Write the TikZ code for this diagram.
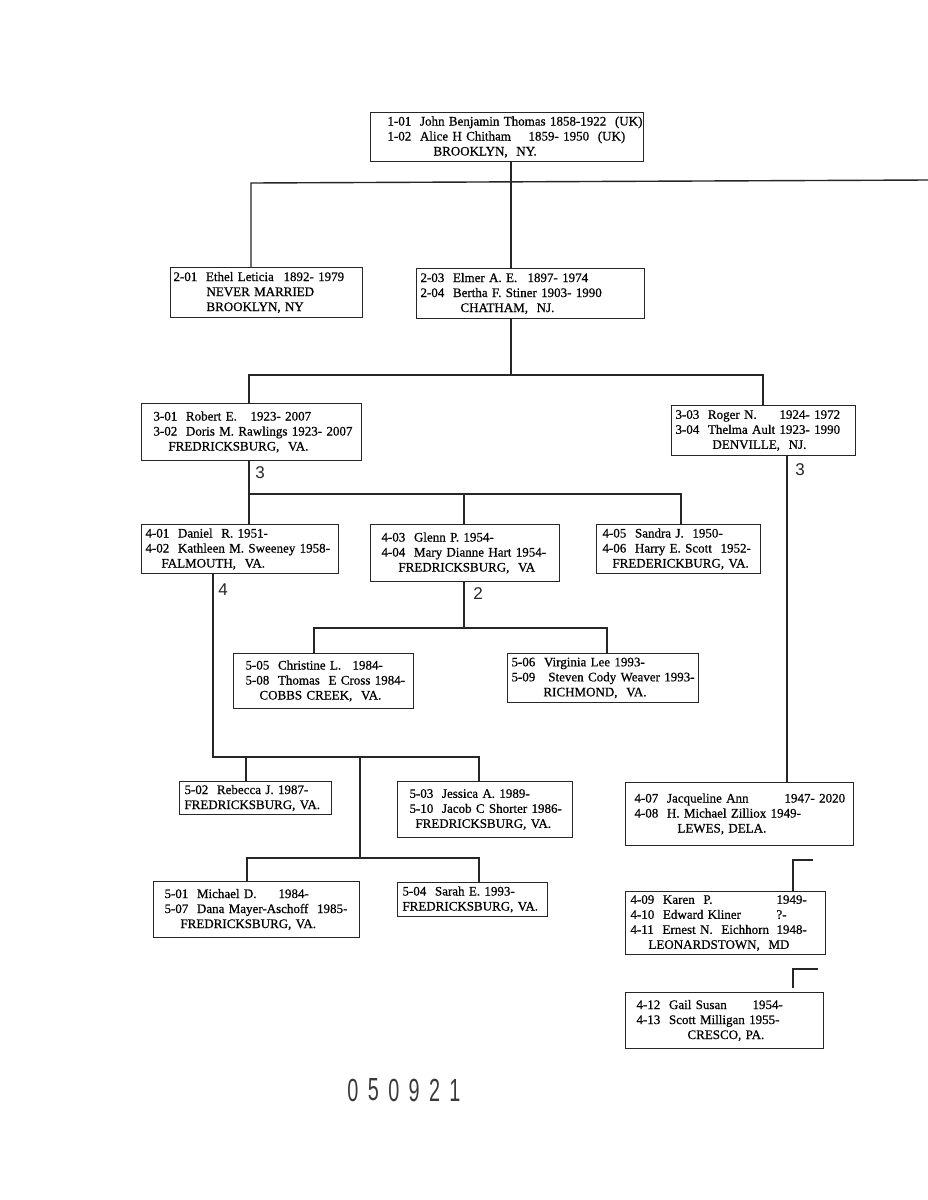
\documentclass[tikz,border=0pt]{standalone}
\usepackage{fontspec}
\usepackage{xcolor}
\usepackage{tikz}
\setmainfont{Liberation Serif}
\newfontfamily\famserif{Liberation Serif}[FakeBold=0.6]
\newfontfamily\handfont{Liberation Sans}
\newfontfamily\stampfont{Liberation Sans}
\definecolor{ink}{HTML}{262626}
\definecolor{stampink}{HTML}{3a3a3a}
\newcommand\famfont{\famserif\fontsize{13}{15}\selectfont}
\def\ind#1{\hspace*{#1pt}}
\def\col#1#2{\makebox[#1pt][l]{#2}}
\def\fam#1#2#3#4#5{\node[person,text width=#3pt,minimum height=#4pt] (#1) at (#2) {#5}}
\tikzstyle{person}=[draw=ink,line width=1pt,anchor=north west,align=left,inner xsep=0pt,inner ysep=2pt,font=\famfont]
\tikzstyle{link}=[draw=ink,line width=1.4pt]
\tikzstyle{tally}=[font=\handfont\fontsize{17}{17}\selectfont,text=ink,inner sep=0pt]
\tikzstyle{stamp}=[font=\stampfont\fontsize{32}{32}\selectfont,text=stampink,xscale=0.62,inner sep=0pt]

\begin{document}
\begin{tikzpicture}[x=1pt,y=-1pt]
    \useasboundingbox[fill=white] (0,0) rectangle (928,1200);
    % generation 1 and 2
    \fam{thomas}{370,112}{273}{49}{\ind{17}1-01\ \ John Benjamin Thomas 1858-1922\ \ (UK)\\
      \ind{17}\col{141}{1-02\ \ Alice H Chitham}1859- 1950\ \ (UK)\\ \ind{63}BROOKLYN,\ \ NY.};
    \fam{ethel}{170,267}{192}{50}{\ind{3}\col{110}{2-01\ \ Ethel Leticia}1892- 1979\\
      \ind{36}NEVER MARRIED\\ \ind{36}BROOKLYN, NY};
    \fam{elmer}{416,268}{228}{50}{\ind{4}\col{107}{2-03\ \ Elmer A. E.}1897- 1974\\
      \ind{4}2-04\ \ Bertha F. Stiner 1903- 1990\\ \ind{44}CHATHAM,\ \ NJ.};
    % generation 3
    \fam{robert}{141,403}{220}{57}{\ind{12}\col{97}{3-01\ \ Robert E.}1923- 2007\\
      \ind{12}3-02\ \ Doris M. Rawlings 1923- 2007\\ \ind{27}FREDRICKSBURG,\ \ VA.};
    \fam{roger}{671,405}{184}{50}{\ind{4}\col{104}{3-03\ \ Roger N.}1924- 1972\\
      \ind{4}3-04\ \ Thelma Ault 1923- 1990\\ \ind{41}DENVILLE,\ \ NJ.};
    % generation 4
    \fam{daniel}{141,524}{197}{49}{\ind{4}4-01\ \ Daniel\ \ R. 1951-\\
      \ind{4}4-02\ \ Kathleen M. Sweeney 1958-\\ \ind{20}FALMOUTH,\ \ VA.};
    \fam{glenn}{370,524}{189}{57}{\ind{11}4-03\ \ Glenn P. 1954-\\
      \ind{11}4-04\ \ Mary Dianne Hart 1954-\\ \ind{28}FREDRICKSBURG,\ \ VA};
    \fam{sandra}{596,524}{164}{49}{\ind{6}4-05\ \ Sandra J.\ \ 1950-\\
      \ind{6}4-06\ \ Harry E. Scott\ \ 1952-\\ \ind{16}FREDERICKBURG, VA.};
    \fam{jacq}{625,782}{228}{63}{\ind{9}\col{150}{4-07\ \ Jacqueline Ann}1947- 2020\\
      \ind{9}4-08\ \ H. Michael Zilliox 1949-\\ \ind{52}LEWES, DELA.};
    \fam{karen}{625,891}{200}{63}{\ind{5}\col{146}{4-09\ \ Karen\ \ P.}1949-\\
      \ind{5}\col{146}{4-10\ \ Edward Kliner}?-\\ \ind{5}\col{146}{4-11\ \ Ernest N.\ \ Eichhorn}1948-\\
      \ind{23}LEONARDSTOWN,\ \ MD};
    \fam{gail}{625,992}{198}{56}{\ind{11}\col{116}{4-12\ \ Gail Susan}1954-\\
      \ind{11}4-13\ \ Scott Milligan 1955-\\ \ind{62}CRESCO, PA.};
    % generation 5
    \fam{christine}{233,653}{180}{55}{\ind{12}\col{107}{5-05\ \ Christine L.}1984-\\
      \ind{12}5-08\ \ Thomas\ \ E Cross 1984-\\ \ind{26}COBBS CREEK,\ \ VA.};
    \fam{virginia}{507,653}{191}{49}{\ind{4}5-06\ \ Virginia Lee 1993-\\
      \ind{4}5-09\ \ \ Steven Cody Weaver 1993-\\ \ind{36}RICHMOND,\ \ VA.};
    \fam{rebecca}{179,781}{152}{33}{\ind{5}5-02\ \ Rebecca J. 1987-\\ \ind{5}FREDRICKSBURG, VA.};
    \fam{jessica}{397,781}{175}{56}{\ind{12}5-03\ \ Jessica A. 1989-\\
      \ind{12}5-10\ \ Jacob C Shorter 1986-\\ \ind{18}FREDRICKSBURG, VA.};
    \fam{michael}{153,881}{206}{56}{\ind{11}\col{114}{5-01\ \ Michael D.}1984-\\
      \ind{11}5-07\ \ Dana Mayer-Aschoff\ \ 1985-\\ \ind{27}FREDRICKSBURG, VA.};
    \fam{sarah}{397,882}{150}{34}{\ind{5}5-04\ \ Sarah E. 1993-\\ \ind{5}FREDRICKSBURG, VA.};
    % junctions
    \coordinate (g1l) at (251,183); \coordinate (g1m) at (511,182); \coordinate (g1r) at (928,180);
    \coordinate (g2l) at (249,375); \coordinate (g2m) at (511,375); \coordinate (g2r) at (763,375);
    \coordinate (g3l) at (249,494); \coordinate (g3m) at (464,494); \coordinate (g3r) at (681,494);
    \coordinate (g4l) at (314,628); \coordinate (g4m) at (464,628); \coordinate (g4r) at (607,628);
    \coordinate (g5l) at (213,757); \coordinate (g5a) at (246,757); \coordinate (g5m) at (360,757); \coordinate (g5r) at (479,757);
    \coordinate (g6l) at (247,858); \coordinate (g6m) at (360,858); \coordinate (g6r) at (479,858);
    \coordinate (g7) at (787,455);
    \coordinate (kb) at (793,860); \coordinate (ke) at (813,860);
    \coordinate (gb) at (793,969); \coordinate (ge) at (818,969);
    % connectors
    \draw[link] (thomas.south -| g1m) -- (elmer.north -| g1m);
    \draw[link] (ethel.north -| g1l) -- (g1l) -- (g1r);
    \draw[link] (elmer.south -| g2m) -- (g2m);
    \draw[link] (robert.north -| g2l) |- (g2r) -- (roger.north -| g2r);
    \draw[link] (robert.south -| g3l) -- (daniel.north -| g3l);
    \draw[link] (g3l) -- (g3r) -- (sandra.north -| g3r);
    \draw[link] (g3m) -- (glenn.north -| g3m);
    \draw[link] (glenn.south -| g4m) -- (g4m);
    \draw[link] (christine.north -| g4l) |- (g4r) -- (virginia.north -| g4r);
    \draw[link] (daniel.south -| g5l) |- (g5r) -- (jessica.north -| g5r);
    \draw[link] (g5a) -- (rebecca.north -| g5a);
    \draw[link] (g5m) -- (g6m);
    \draw[link] (michael.north -| g6l) |- (g6r) -- (sarah.north -| g6r);
    \draw[link] (roger.south -| g7) -- (jacq.north -| g7);
    \draw[link] (karen.north -| kb) -- (kb) -- (ke);
    \draw[link] ([yshift=4pt]gail.north -| gb) -- (gb) -- (ge);
    % hand marks
    \node[tally] (n3a) at (260,473) {3};
    \node[tally] (n3b) at (800,470) {3};
    \node[tally] (n4) at (223,590) {4};
    \node[tally] (n2) at (478,594) {2};
    % stamp
    \foreach \d [count=\i from 0] in {0,5,0,9,2,1}
      \node[stamp] (s\i) at (353+20.4*\i,1090) {\d};
\end{tikzpicture}
\end{document}
